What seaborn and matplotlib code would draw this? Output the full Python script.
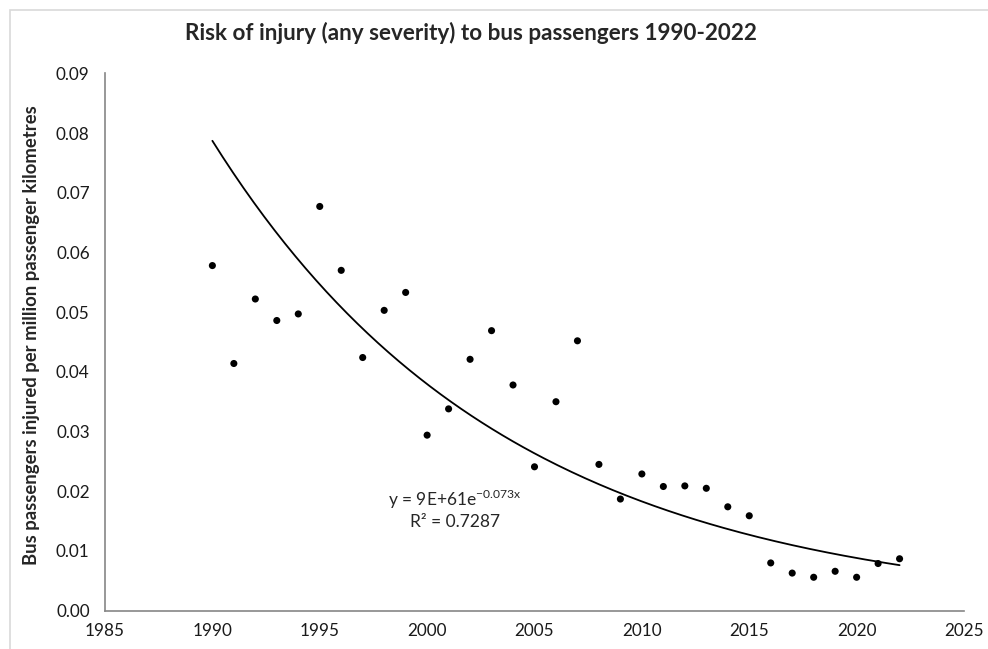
import numpy as np
import pandas as pd
import seaborn as sns
import matplotlib.pyplot as plt
from matplotlib.patches import Rectangle

years = list(range(1990, 2023))
injury_rate = [0.0578, 0.0414, 0.0522, 0.0486, 0.0497, 0.0677, 0.0570, 0.0424, 0.0503, 0.0533,
               0.0294, 0.0338, 0.0421, 0.0469, 0.0378, 0.0241, 0.0350, 0.0452, 0.0245, 0.0187,
               0.0229, 0.0208, 0.0209, 0.0205, 0.0174, 0.0159, 0.0080, 0.0063, 0.0056, 0.0066,
               0.0056, 0.0079, 0.0087]
x_ticks = [1985, 1990, 1995, 2000, 2005, 2010, 2015, 2020, 2025]
y_ticks = [0.00, 0.01, 0.02, 0.03, 0.04, 0.05, 0.06, 0.07, 0.08, 0.09]

df = pd.DataFrame({'year': years, 'rate': injury_rate})

# exponential trendline, fitted like Excel does (linear fit on log y)
b, ln_a = np.polyfit(df['year'], np.log(df['rate']), 1)
trend = pd.DataFrame({'year': np.linspace(1990, 2022, 200)})
trend['rate'] = np.exp(ln_a + b * trend['year'])

sns.set_style("white")
plt.rcParams['font.family'] = ['Lato', 'DejaVu Sans']

fig = plt.figure(figsize=(9.88, 6.49), dpi=100)
ax = fig.add_axes([105 / 988, 1 - 610.7 / 649, (964 - 105) / 988, (610.7 - 73.3) / 649])

fig.patches.append(Rectangle((10 / 988, -0.1), 1.2, 1 - 10 / 649 + 0.1, transform=fig.transFigure,
                             fill=False, edgecolor='#d9d9d9', linewidth=1.2))

sns.lineplot(data=trend, x='year', y='rate', ax=ax, color='black', linewidth=1.3)
sns.scatterplot(data=df, x='year', y='rate', ax=ax, color='black', s=26, edgecolor='none', zorder=3)

ax.set_xlim(1985, 2025)
ax.set_ylim(0, 0.09)
ax.set_xticks(x_ticks)
ax.set_yticks(y_ticks)
ax.set_yticklabels([f'{v:.2f}' for v in y_ticks])
ax.tick_params(axis='both', direction='out', length=5, width=1, color='#868686',
               labelsize=12.3, labelcolor='#1a1a1a', pad=4)
ax.tick_params(axis='y', pad=6)
sns.despine(ax=ax)
for side in ['left', 'bottom']:
    ax.spines[side].set_color('#868686')
    ax.spines[side].set_linewidth(1.2)

ax.set_xlabel('')
ax.set_ylabel('Bus passengers injured per million passenger kilometres', fontsize=13.3,
              fontweight='bold')
ax.yaxis.set_label_coords(-0.076, 0.513)

fig.text(0.477, 1 - 33 / 649, 'Risk of injury (any severity) to bus passengers 1990-2022',
         ha='center', va='center', fontsize=16.2, fontweight='bold')

ax.text(2001.3, 0.0187, r'y = 9E+61e$^{\mathregular{-0.073x}}$', ha='center', va='center', fontsize=12.5)
ax.text(2001.3, 0.0149, 'R² = 0.7287', ha='center', va='center', fontsize=12.5)

plt.savefig('out.png', dpi=100)
